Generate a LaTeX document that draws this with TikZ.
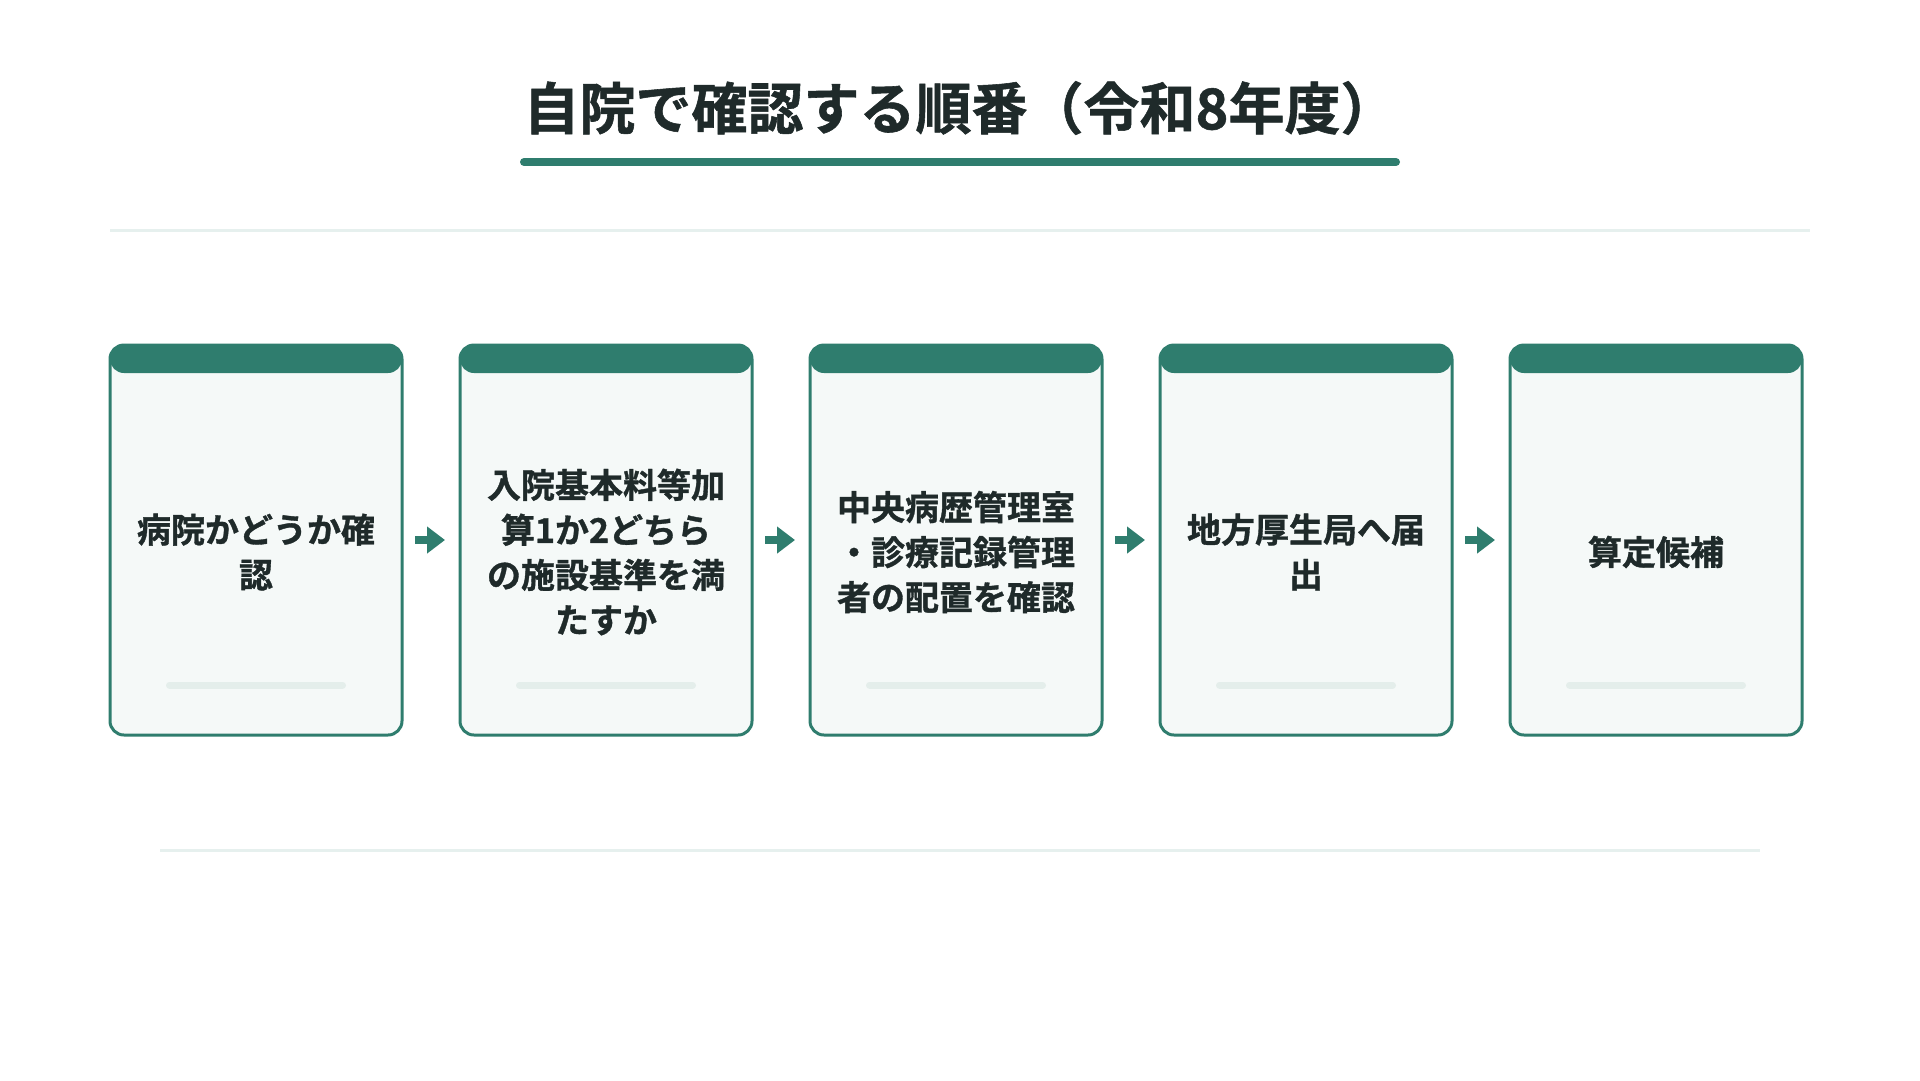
\documentclass[tikz,border=0pt]{standalone}
\usepackage{fontspec}
\setmainfont{Noto Sans CJK JP}[UprightFont=*, BoldFont=* Bold, BoldFeatures={FakeBold=1}]
\usetikzlibrary{arrows.meta}
\definecolor{brand}{HTML}{2F7D6E}
\definecolor{ink}{HTML}{1F2A2A}
\definecolor{cardfill}{HTML}{F5F9F8}
\definecolor{rulegray}{HTML}{E6F0EE}
\definecolor{barfill}{HTML}{E4EEEB}
\tikzset{
  cardbox/.style={rectangle, draw=brand, line width=3pt, fill=cardfill,
    rounded corners=14pt, minimum width=292pt, minimum height=390pt,
    inner sep=0pt, outer sep=0pt,
    path picture={\fill[brand] (path picture bounding box.north west)
      rectangle ([yshift=-28pt]path picture bounding box.north east);}},
  cardtext/.style={align=center, text=ink, inner sep=0pt,
    font=\fontsize{34}{45}\selectfont\bfseries},
  flow/.style={draw=brand, line width=8pt,
    -{Triangle[length=18pt,width=26pt]}, shorten <=13pt, shorten >=15pt},
  sepline/.style={draw=rulegray, line width=3pt},
  cardbar/.style={draw=barfill, line width=7pt, line cap=round},
  titletext/.style={text=ink, inner sep=0pt,
    font=\fontsize{56}{66}\selectfont\bfseries},
}
\begin{document}
\begin{tikzpicture}[x=1pt,y=-1pt]
\useasboundingbox[fill=white] (0,0) rectangle (1920,1080);
% title
\node[titletext] (title) at (960,108) {自院で確認する順番（令和8年度）};
\coordinate (ul1) at (524,162);
\coordinate (ul2) at (1396,162);
\draw[brand, line width=8pt, line cap=round] (ul1) -- (ul2);
% separators
\coordinate (s1a) at (110,230);
\coordinate (s1b) at (1810,230);
\draw[sepline] (s1a) -- (s1b);
\coordinate (s2a) at (160,850);
\coordinate (s2b) at (1760,850);
\draw[sepline] (s2a) -- (s2b);
% cards
\foreach \i in {1,...,5}{
  \node[cardbox] (c\i) at ({256+350*(\i-1)},540) {};
  \draw[cardbar] ([xshift=-86.5pt,yshift=-145pt]c\i.center) -- ([xshift=86.5pt,yshift=-145pt]c\i.center);
}
\node[cardtext] (t1) at ([yshift=-12pt]c1.center) {病院かどうか確\\認};
\node[cardtext] (t2) at ([yshift=-12pt]c2.center) {入院基本料等加\\算1か2どちら\\の施設基準を満\\たすか};
\node[cardtext] (t3) at ([yshift=-12pt]c3.center) {中央病歴管理室\\・診療記録管理\\者の配置を確認};
\node[cardtext] (t4) at ([yshift=-12pt]c4.center) {地方厚生局へ届\\出};
\node[cardtext] (t5) at ([yshift=-12pt]c5.center) {算定候補};
% arrows
\draw[flow] (c1.east) -- (c2.west);
\draw[flow] (c2.east) -- (c3.west);
\draw[flow] (c3.east) -- (c4.west);
\draw[flow] (c4.east) -- (c5.west);
\end{tikzpicture}
\end{document}
